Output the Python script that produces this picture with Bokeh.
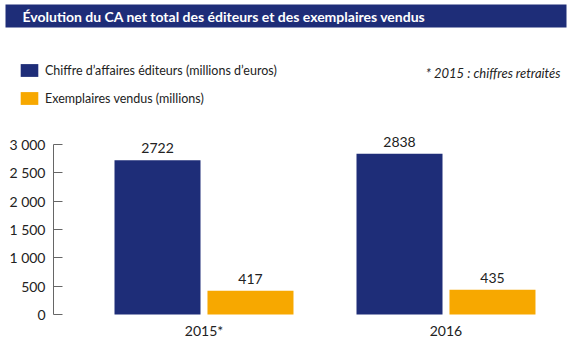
from bokeh.plotting import figure
from bokeh.models import (ColumnDataSource, Range1d, FixedTicker, Legend, LegendItem,
                          BoxAnnotation, Label)
from bokeh.core.properties import value
from bokeh.transform import dodge
from bokeh.embed import file_html
from bokeh.resources import INLINE

# ---- data ----
years = ["2015*", "2016"]
ca_editeurs = [2722, 2838]
exemplaires = [417, 435]
y_ticks = [0, 500, 1000, 1500, 2000, 2500, 3000]
y_tick_labels = ["0", "500", "1 000", "1 500", "2 000", "2 500", "3 000"]
series_names = ["Chiffre d\u2019affaires éditeurs (millions d\u2019euros)", "Exemplaires vendus (millions)"]
title_text = "Évolution du CA net total des éditeurs et des exemplaires vendus"
note_text = "* 2015 : chiffres retraités"

NAVY = "#1e2d78"
ORANGE = "#f7a800"
FONT = "Lato"

idx = list(range(len(years)))
src = ColumnDataSource(dict(
    x=idx,
    ca=ca_editeurs,
    ex=exemplaires,
    ca_lbl=[str(v) for v in ca_editeurs],
    ex_lbl=[str(v) for v in exemplaires],
))

p = figure(width=570, height=350, output_backend="svg", toolbar_location=None,
           x_range=Range1d(-0.8409, 1.5145), y_range=Range1d(-635.3, 5541.2),
           min_border=0)
p.outline_line_color = None
p.xgrid.visible = False
p.ygrid.visible = False

off = 0.1921
w = 0.3554
r1 = p.vbar(x=dodge("x", -off, range=p.x_range), top="ca", bottom=0, width=w, source=src,
            fill_color=NAVY, line_color=None)
r2 = p.vbar(x=dodge("x", off, range=p.x_range), top="ex", bottom=0, width=w, source=src,
            fill_color=ORANGE, line_color=None)

p.text(x=dodge("x", -off, range=p.x_range), y="ca", text="ca_lbl", source=src,
       text_align="center", text_baseline="alphabetic", y_offset=-12,
       text_font=value(FONT), text_font_size="14px", text_color="#222222")
p.text(x=dodge("x", off, range=p.x_range), y="ex", text="ex_lbl", source=src,
       text_align="center", text_baseline="alphabetic", y_offset=-12,
       text_font=value(FONT), text_font_size="14px", text_color="#222222")

# y axis (placed inside the frame at a fixed location)
ya = p.yaxis[0]
ya.fixed_location = -0.6219
ya.ticker = FixedTicker(ticks=y_ticks)
ya.major_label_overrides = {t: l for t, l in zip(y_ticks, y_tick_labels)}
ya.bounds = (0, 3000)
ya.major_tick_in = 9
ya.major_tick_out = 0
ya.minor_tick_in = 0
ya.minor_tick_out = 0
ya.axis_line_color = "#666666"
ya.major_tick_line_color = "#666666"
ya.major_label_standoff = 8
ya.major_label_text_font = FONT
ya.major_label_text_font_size = "14px"
ya.major_label_text_color = "#222222"

# x axis
xa = p.xaxis[0]
xa.fixed_location = 0
xa.ticker = FixedTicker(ticks=idx)
xa.major_label_overrides = {i: y for i, y in zip(idx, years)}
xa.axis_line_color = None
xa.major_tick_line_color = None
xa.minor_tick_line_color = None
xa.major_label_standoff = 2
xa.major_label_text_font = FONT
xa.major_label_text_font_size = "14px"
xa.major_label_text_color = "#222222"

# legend
legend = Legend(items=[LegendItem(label=series_names[0], renderers=[r1]),
                       LegendItem(label=series_names[1], renderers=[r2])],
                location=(18, 244), orientation="vertical",
                glyph_width=22, glyph_height=16, spacing=12, padding=0, margin=0,
                label_standoff=5, label_text_font=FONT, label_text_font_size="12.5px",
                label_text_color="#222222", border_line_color=None,
                background_fill_alpha=0, label_height=16)
p.add_layout(legend, "center")

# title bar
p.add_layout(BoxAnnotation(left=5, right=566, top=4, bottom=27,
                           left_units="canvas", right_units="canvas",
                           top_units="canvas", bottom_units="canvas",
                           fill_color=NAVY, fill_alpha=1, line_color=None))
p.add_layout(Label(x=22, y=16, x_units="canvas", y_units="canvas", text=title_text,
                   text_font=FONT, text_font_style="bold", text_font_size="14px",
                   text_color="white", text_baseline="middle"))

# note
p.add_layout(Label(x=1.4731, y=4253, text=note_text, text_align="right",
                   text_baseline="middle", text_font=FONT, text_font_style="italic",
                   text_font_size="13px", text_color="#222222"))

open("out.html", "w").write(file_html(p, INLINE))
